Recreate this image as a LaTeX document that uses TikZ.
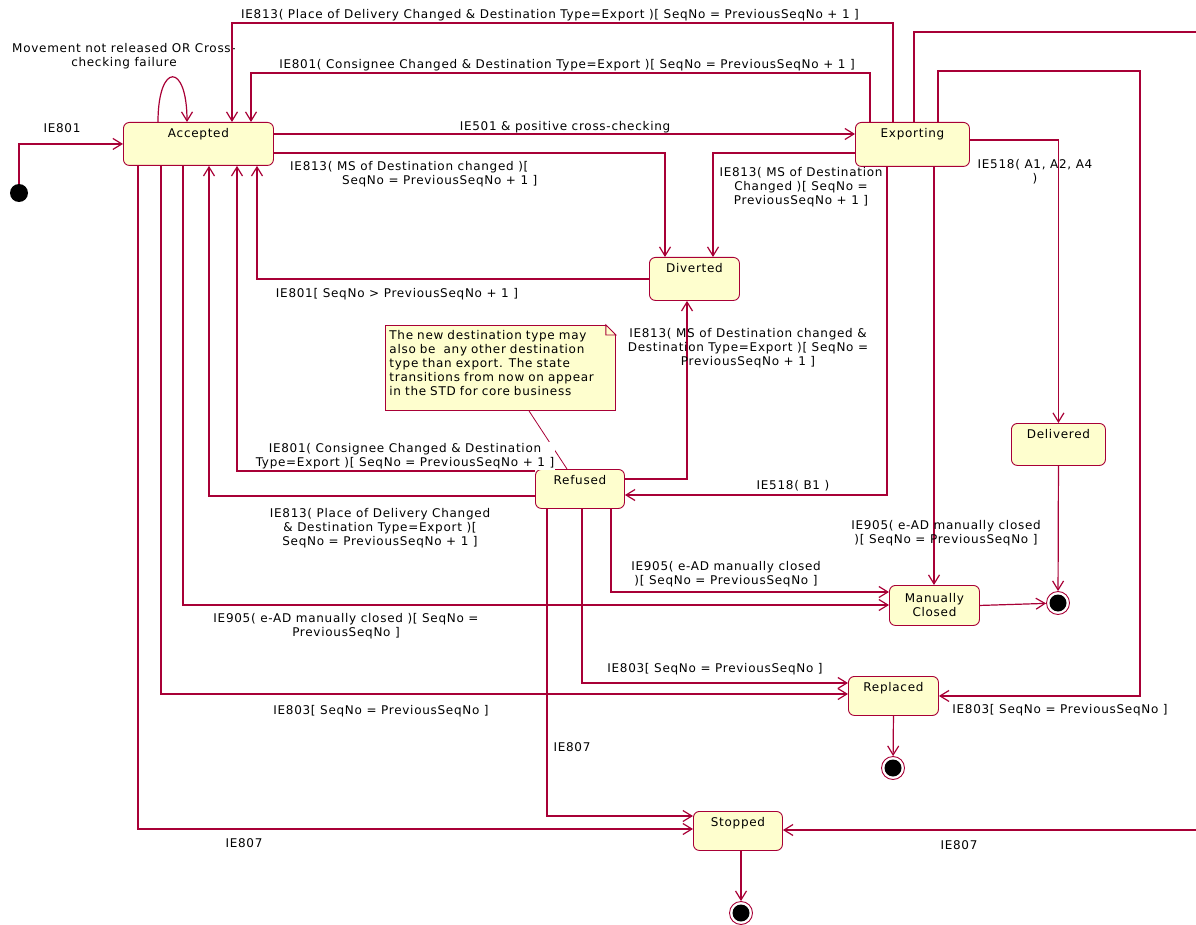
\documentclass[tikz,border=0pt]{standalone}
\usepackage{fontspec}
\setmainfont{DejaVu Sans}[LetterSpace=6]
\usetikzlibrary{arrows.meta}

\begin{document}
\begin{tikzpicture}[x=1pt,y=-1pt,
    font=\fontsize{12}{14}\selectfont,
    stbase/.style={draw=uml,fill=stf,line width=0.9pt,rounded corners=6pt,
      inner xsep=0pt,inner ysep=0pt,anchor=north west},
    stbox/.style={stbase,text height=15.5pt},
    tr/.style={draw=uml,line width=1.2pt,-{Straight Barb[length=9pt,width=11pt]}},
    ln/.style={draw=uml,line width=1.2pt},
    lbl/.style={inner sep=1pt,align=center},
    initst/.style={circle,fill=black,minimum size=18pt,inner sep=0pt},
    endst/.style={circle,draw=uml,fill=white,line width=0.9pt,minimum size=23pt,inner sep=0pt,
      path picture={\fill[black] (path picture bounding box.center) circle (8.5pt);}},
    notebox/.style={draw=uml,fill=stf,line width=0.9pt,anchor=north west,align=left,
      text width=222pt,text depth=67pt,minimum height=85pt,inner xsep=4pt,inner ysep=3pt}]
  \definecolor{uml}{HTML}{A80036}
  \definecolor{stf}{HTML}{FEFECE}
  \useasboundingbox (0,0) rectangle (1196,925);

  % states
  \node[initst] (init) at (19,193) {};
  \node[stbox,minimum width=150pt,text depth=27.5pt] (acc) at (123,122) {Accepted};
  \node[stbox,minimum width=114pt,text depth=28.5pt] (exp) at (855,122) {Exporting};
  \node[stbox,minimum width=90pt,text depth=27.5pt] (div) at (649,257) {Diverted};
  \node[stbox,minimum width=89pt,text depth=23.5pt] (ref) at (535,469) {Refused};
  \node[stbox,minimum width=94pt,text depth=26.5pt] (del) at (1011,423) {Delivered};
  \node[stbase,minimum width=90pt,minimum height=40pt,align=center] (mc) at (889,585) {Manually\\Closed};
  \node[stbox,minimum width=90pt,text depth=23.5pt] (rep) at (848,676) {Replaced};
  \node[stbox,minimum width=89pt,text depth=23.5pt] (stp) at (693,811) {Stopped};
  \node[endst] (end1) at (1058,603) {};
  \node[endst] (end2) at (893,768) {};
  \node[endst] (end3) at (741,913) {};
  \coordinate (offA) at (1196,32);
  \coordinate (offB) at (1196,830);

  % note
  \node[notebox] (note) at (385,325) {The new destination type may\\also be\ \ any other destination\\type than export. The state\\transitions from now on appear\\in the STD for core business};
  \fill[white] ([xshift=-10pt]note.north east) -- (note.north east) -- ([yshift=-10pt]note.north east) -- cycle;
  \draw[uml,line width=0.9pt] ([xshift=-10pt]note.north east) -- ([xshift=-10pt,yshift=-10pt]note.north east)
    -- ([yshift=-10pt]note.north east) -- cycle;
  \draw[uml,line width=0.8pt] (note.south -| 529,0) -- (ref.north -| 567,0);

  % from the start and around Accepted
  \draw[tr] (init.north) |- (acc.west);
  \node[lbl] (l1) at (62,128) {IE801};
  \draw[tr] (acc.north -| 158,0) .. controls (158,62) and (187,62) .. (acc.north -| 187,0);
  \node[lbl] (l2) at (124,56) {Movement not released OR Cross-\\checking failure};

  % Exporting back to Accepted, over the top
  \draw[tr] (exp.north -| 893,0) |- (232,23) -- (acc.north -| 232,0);
  \node[lbl] (l3) at (550,15) {IE813( Place of Delivery Changed \& Destination Type=Export )[ SeqNo = PreviousSeqNo + 1 ]};
  \draw[tr] (exp.north -| 870,0) |- (251,73) -- (acc.north -| 251,0);
  \node[lbl] (l4) at (567,65) {IE801( Consignee Changed \& Destination Type=Export )[ SeqNo = PreviousSeqNo + 1 ]};
  \draw[ln] (exp.north -| 914,0) |- (offA);
  \draw[tr] (exp.north -| 938,0) |- (1140,71) |- (rep.east);
  \node[lbl] (l5) at (1060,710) {IE803[ SeqNo = PreviousSeqNo ]};

  % Accepted / Exporting / Diverted
  \draw[tr] (acc.east |- 0,134) -- (exp.west |- 0,134);
  \node[lbl] (l6) at (565,127) {IE501 \& positive cross-checking};
  \draw[tr] (acc.east |- 0,153) -| (div.north -| 665,0);
  \node[lbl,align=left,anchor=west] (l7) at (289,174) {IE813( MS of Destination changed )[\\\hspace*{52pt}SeqNo = PreviousSeqNo + 1 ]};
  \draw[tr] (exp.west |- 0,153) -| (div.north -| 713,0);
  \node[lbl] (l8) at (801,187) {IE813( MS of Destination\\Changed )[ SeqNo =\\PreviousSeqNo + 1 ]};
  \draw[tr] (div.west) -| (acc.south -| 257,0);
  \node[lbl] (l9) at (397,294) {IE801[ SeqNo > PreviousSeqNo + 1 ]};

  % Refused
  \draw[tr] (ref.east |- 0,479) -| (div.south -| 687,0);
  \node[lbl] (l10) at (748,348) {IE813( MS of Destination changed \&\\Destination Type=Export )[ SeqNo =\\PreviousSeqNo + 1 ]};
  \draw[tr] (exp.south -| 887,0) |- (ref.east |- 0,495);
  \node[lbl] (l11) at (793,486) {IE518( B1 )};
  \draw[tr] (ref.west |- 0,471) -| (acc.south -| 237,0);
  \node[lbl,fill=white] (l12) at (405,456) {IE801( Consignee Changed \& Destination\\Type=Export )[ SeqNo = PreviousSeqNo + 1 ]};
  \draw[tr] (ref.west |- 0,496) -| (acc.south -| 209,0);
  \node[lbl] (l13) at (380,528) {IE813( Place of Delivery Changed\\\& Destination Type=Export )[\\SeqNo = PreviousSeqNo + 1 ]};
  \draw[tr] (ref.south -| 611,0) |- (mc.west |- 0,592);
  \node[lbl] (l14) at (726,574) {IE905( e-AD manually closed\\)[ SeqNo = PreviousSeqNo ]};
  \draw[tr] (ref.south -| 582,0) |- (rep.west |- 0,683);
  \node[lbl] (l15) at (715,669) {IE803[ SeqNo = PreviousSeqNo ]};
  \draw[tr] (ref.south -| 547,0) |- (stp.west |- 0,816);
  \node[lbl] (l16) at (572,747) {IE807};

  % Accepted down to the closing states
  \draw[tr] (acc.south -| 183,0) |- (mc.west |- 0,605);
  \node[lbl] (l17) at (346,626) {IE905( e-AD manually closed )[ SeqNo =\\PreviousSeqNo ]};
  \draw[tr] (acc.south -| 161,0) |- (rep.west |- 0,694);
  \node[lbl] (l18) at (381,711) {IE803[ SeqNo = PreviousSeqNo ]};
  \draw[tr] (acc.south -| 138,0) |- (stp.west |- 0,829);
  \node[lbl] (l19) at (244,843) {IE807};

  % Exporting down
  \draw[tr] (exp.south -| 934,0) -- (mc.north -| 934,0);
  \node[lbl] (l20) at (946,533) {IE905( e-AD manually closed\\)[ SeqNo = PreviousSeqNo ]};
  \draw[tr] (exp.east |- 0,140) -| (del.north);
  \node[lbl] (l21) at (1035,172) {IE518( A1, A2, A4\\)};
  \draw[tr] (offB) -- (stp.east |- offB);
  \node[lbl] (l22) at (959,845) {IE807};

  % final states
  \draw[tr] (del.south) -- (end1);
  \draw[tr] (mc.east) -- (end1);
  \draw[tr] (rep.south) -- (end2);
  \draw[tr] (stp.south -| end3) -- (end3);
\end{tikzpicture}
\end{document}
